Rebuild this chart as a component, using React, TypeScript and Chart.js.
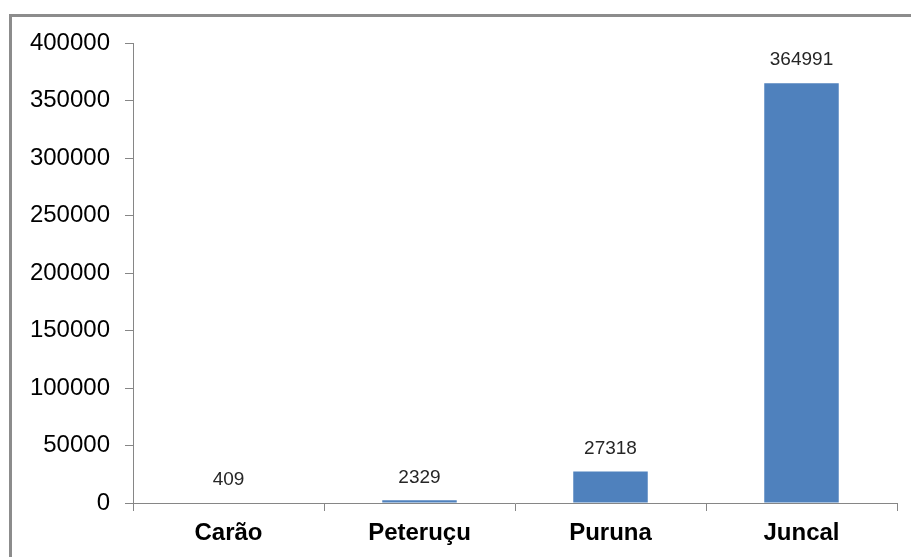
import React, { useEffect, useRef } from "react";
import { Chart, registerables } from "chart.js";

Chart.register(...registerables);

const categories = ["Carão", "Peteruçu", "Puruna", "Juncal"];
const values = [409, 2329, 27318, 364991];
const yMax = 400000;
const yStep = 50000;

const FONT = "'Liberation Sans', Arial, sans-serif";

const frame = {
  id: "frame",
  beforeDraw(chart: any) {
    const ctx = chart.ctx;
    ctx.save();
    ctx.fillStyle = "#fff";
    ctx.fillRect(0, 0, chart.width, chart.height);
    ctx.strokeStyle = "#8c8c8c";
    ctx.lineWidth = 3;
    ctx.beginPath();
    ctx.moveTo(10.5, chart.height + 5);
    ctx.lineTo(10.5, 15.5);
    ctx.lineTo(chart.width + 5, 15.5);
    ctx.stroke();
    ctx.restore();
  },
};

const valueLabels = {
  id: "valueLabels",
  afterDatasetsDraw(chart: any) {
    const ctx = chart.ctx;
    const meta = chart.getDatasetMeta(0);
    ctx.save();
    ctx.font = `19px ${FONT}`;
    ctx.fillStyle = "#262626";
    ctx.textAlign = "center";
    ctx.textBaseline = "middle";
    meta.data.forEach((bar: any, i: number) => {
      ctx.fillText(String(values[i]), bar.x, bar.y - 23);
    });
    ctx.restore();
  },
};

export default function App() {
  const ref = useRef<HTMLCanvasElement>(null);
  useEffect(() => {
    if (!ref.current) return;
    const chart = new Chart(ref.current, {
      type: "bar",
      data: {
        labels: categories,
        datasets: [
          {
            data: values,
            backgroundColor: "#4F81BD",
            borderWidth: 0,
            barPercentage: 0.39,
            categoryPercentage: 1,
          },
        ],
      },
      options: {
        animation: false,
        responsive: false,
        maintainAspectRatio: false,
        layout: { padding: { left: 0, top: 43, right: 14, bottom: 0 } },
        plugins: { legend: { display: false }, tooltip: { enabled: false } },
        scales: {
          y: {
            min: 0,
            max: yMax,
            ticks: {
              stepSize: yStep,
              color: "#000",
              font: { family: FONT, size: 24 },
              padding: 15,
              callback: (v: any) => String(v),
            },
            grid: {
              drawOnChartArea: false,
              drawTicks: true,
              tickLength: 8,
              color: "#868686",
            },
            border: { color: "#868686", width: 1 },
            afterFit(scale: any) {
              scale.width = 133;
            },
          },
          x: {
            ticks: {
              color: "#000",
              font: { family: FONT, size: 24, weight: "bold" },
              padding: 8,
            },
            grid: {
              drawOnChartArea: false,
              drawTicks: true,
              tickLength: 8,
              color: "#868686",
              offset: true,
            },
            border: { color: "#868686", width: 1 },
            afterFit(scale: any) {
              scale.height = 54;
            },
          },
        },
      },
      plugins: [frame, valueLabels],
    });
    return () => chart.destroy();
  }, []);

  return (
    <div style={{ position: "fixed", left: 0, top: 0, width: 911, height: 557, background: "#fff" }}>
      <canvas ref={ref} width={911} height={557} style={{ display: "block" }} />
    </div>
  );
}
